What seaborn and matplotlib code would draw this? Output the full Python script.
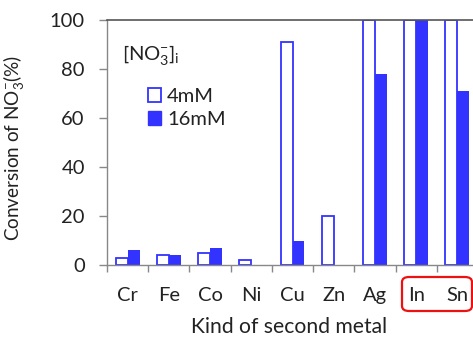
import matplotlib
matplotlib.use("Agg")
import matplotlib.pyplot as plt
import pandas as pd
import seaborn as sns
from matplotlib.patches import Patch, FancyBboxPatch

# metals (x) and conversion (%) for the two initial nitrate concentrations
metals = ["Cr", "Fe", "Co", "Ni", "Cu", "Zn", "Ag", "In", "Sn"]
conv_4mM = [3, 4, 5, 2, 91, 20, 100, 100, 100]
conv_16mM = [6, 4, 7, 0, 10, 0, 78, 100, 71]
series = ["4mM", "16mM"]

blue = "#3333FF"

df = pd.DataFrame({
    "metal": metals * 2,
    "conv": conv_4mM + conv_16mM,
    "conc": [series[0]] * len(metals) + [series[1]] * len(metals),
})

sns.set_theme(style="ticks")
plt.rcParams['font.family'] = ['Lato', 'DejaVu Sans']
plt.rcParams['mathtext.fontset'] = 'custom'
plt.rcParams['mathtext.rm'] = 'Lato'
plt.rcParams['mathtext.it'] = 'Lato'
txt = "#222222"
fs = 14.5

fig = plt.figure(figsize=(4.73, 3.37), dpi=100)
W, H = 473, 337
ax = fig.add_axes([107 / W, (H - 265) / H, (478 - 107) / W, (265 - 20) / H])

sns.barplot(data=df, x="metal", y="conv", hue="conc", hue_order=series,
            palette=[blue, blue], width=0.58, ax=ax, legend=False, saturation=1)

for p in ax.containers[0]:
    p.set_facecolor("white")
    p.set_edgecolor(blue)
    p.set_linewidth(1.3)
for p in ax.containers[1]:
    p.set_edgecolor("none")

ax.set_xlim(-0.5, len(metals) - 0.5)
ax.set_ylim(0, 100)
ax.set_yticks([0, 20, 40, 60, 80, 100])

# labels at centres, tick marks at category boundaries
ax.set_xticks(range(len(metals)))
ax.set_xticklabels(metals)
ax.set_xticks([i - 0.5 for i in range(len(metals) + 1)], minor=True)
ax.tick_params(axis="x", which="major", length=0, pad=16, labelsize=fs, labelcolor=txt)
ax.tick_params(axis="x", which="minor", length=5, width=1, color="#888888", direction="out")
ax.tick_params(axis="y", length=6, width=1, color="#888888", pad=10, labelsize=fs, labelcolor=txt)

for s in ["left", "bottom"]:
    ax.spines[s].set_color("#888888")
    ax.spines[s].set_linewidth(1)
ax.spines["top"].set_visible(True)
ax.spines["top"].set_color("#555555")
ax.spines["top"].set_linewidth(1.2)
ax.spines["right"].set_visible(False)

ax.set_xlabel("Kind of second metal", fontsize=15.2, color=txt)
ax.xaxis.set_label_coords(0.49, -0.212)
ax.set_ylabel("Conversion of NO$_3^{-}$(%)", fontsize=13.6, color=txt)
ax.yaxis.set_label_coords(-0.218, 0.478)

# legend
fig.text(122 / W, 1 - 55 / H, "[NO$_3^{-}$]$_\\mathrm{i}$", fontsize=fs, color=txt,
         va="center", ha="left")
handles = [Patch(facecolor="white", edgecolor=blue, linewidth=1.3),
           Patch(facecolor=blue, edgecolor=blue)]
leg = ax.legend(handles, series, loc="upper left", frameon=False,
                bbox_to_anchor=(138 / W, 1 - 78 / H), bbox_transform=fig.transFigure,
                fontsize=fs, handlelength=0.65, handleheight=0.65,
                handletextpad=0.3, labelspacing=0.3, borderpad=0)
for t in leg.get_texts():
    t.set_color(txt)

# red rounded box round In / Sn
box = FancyBboxPatch((402 / W, 1 - 311 / H), 70 / W, 34 / H,
                     boxstyle="round,pad=0,rounding_size=0.015",
                     transform=fig.transFigure, fill=False,
                     edgecolor="#EE1111", linewidth=1.6)
fig.patches.append(box)

fig.savefig("out.png", dpi=100)
